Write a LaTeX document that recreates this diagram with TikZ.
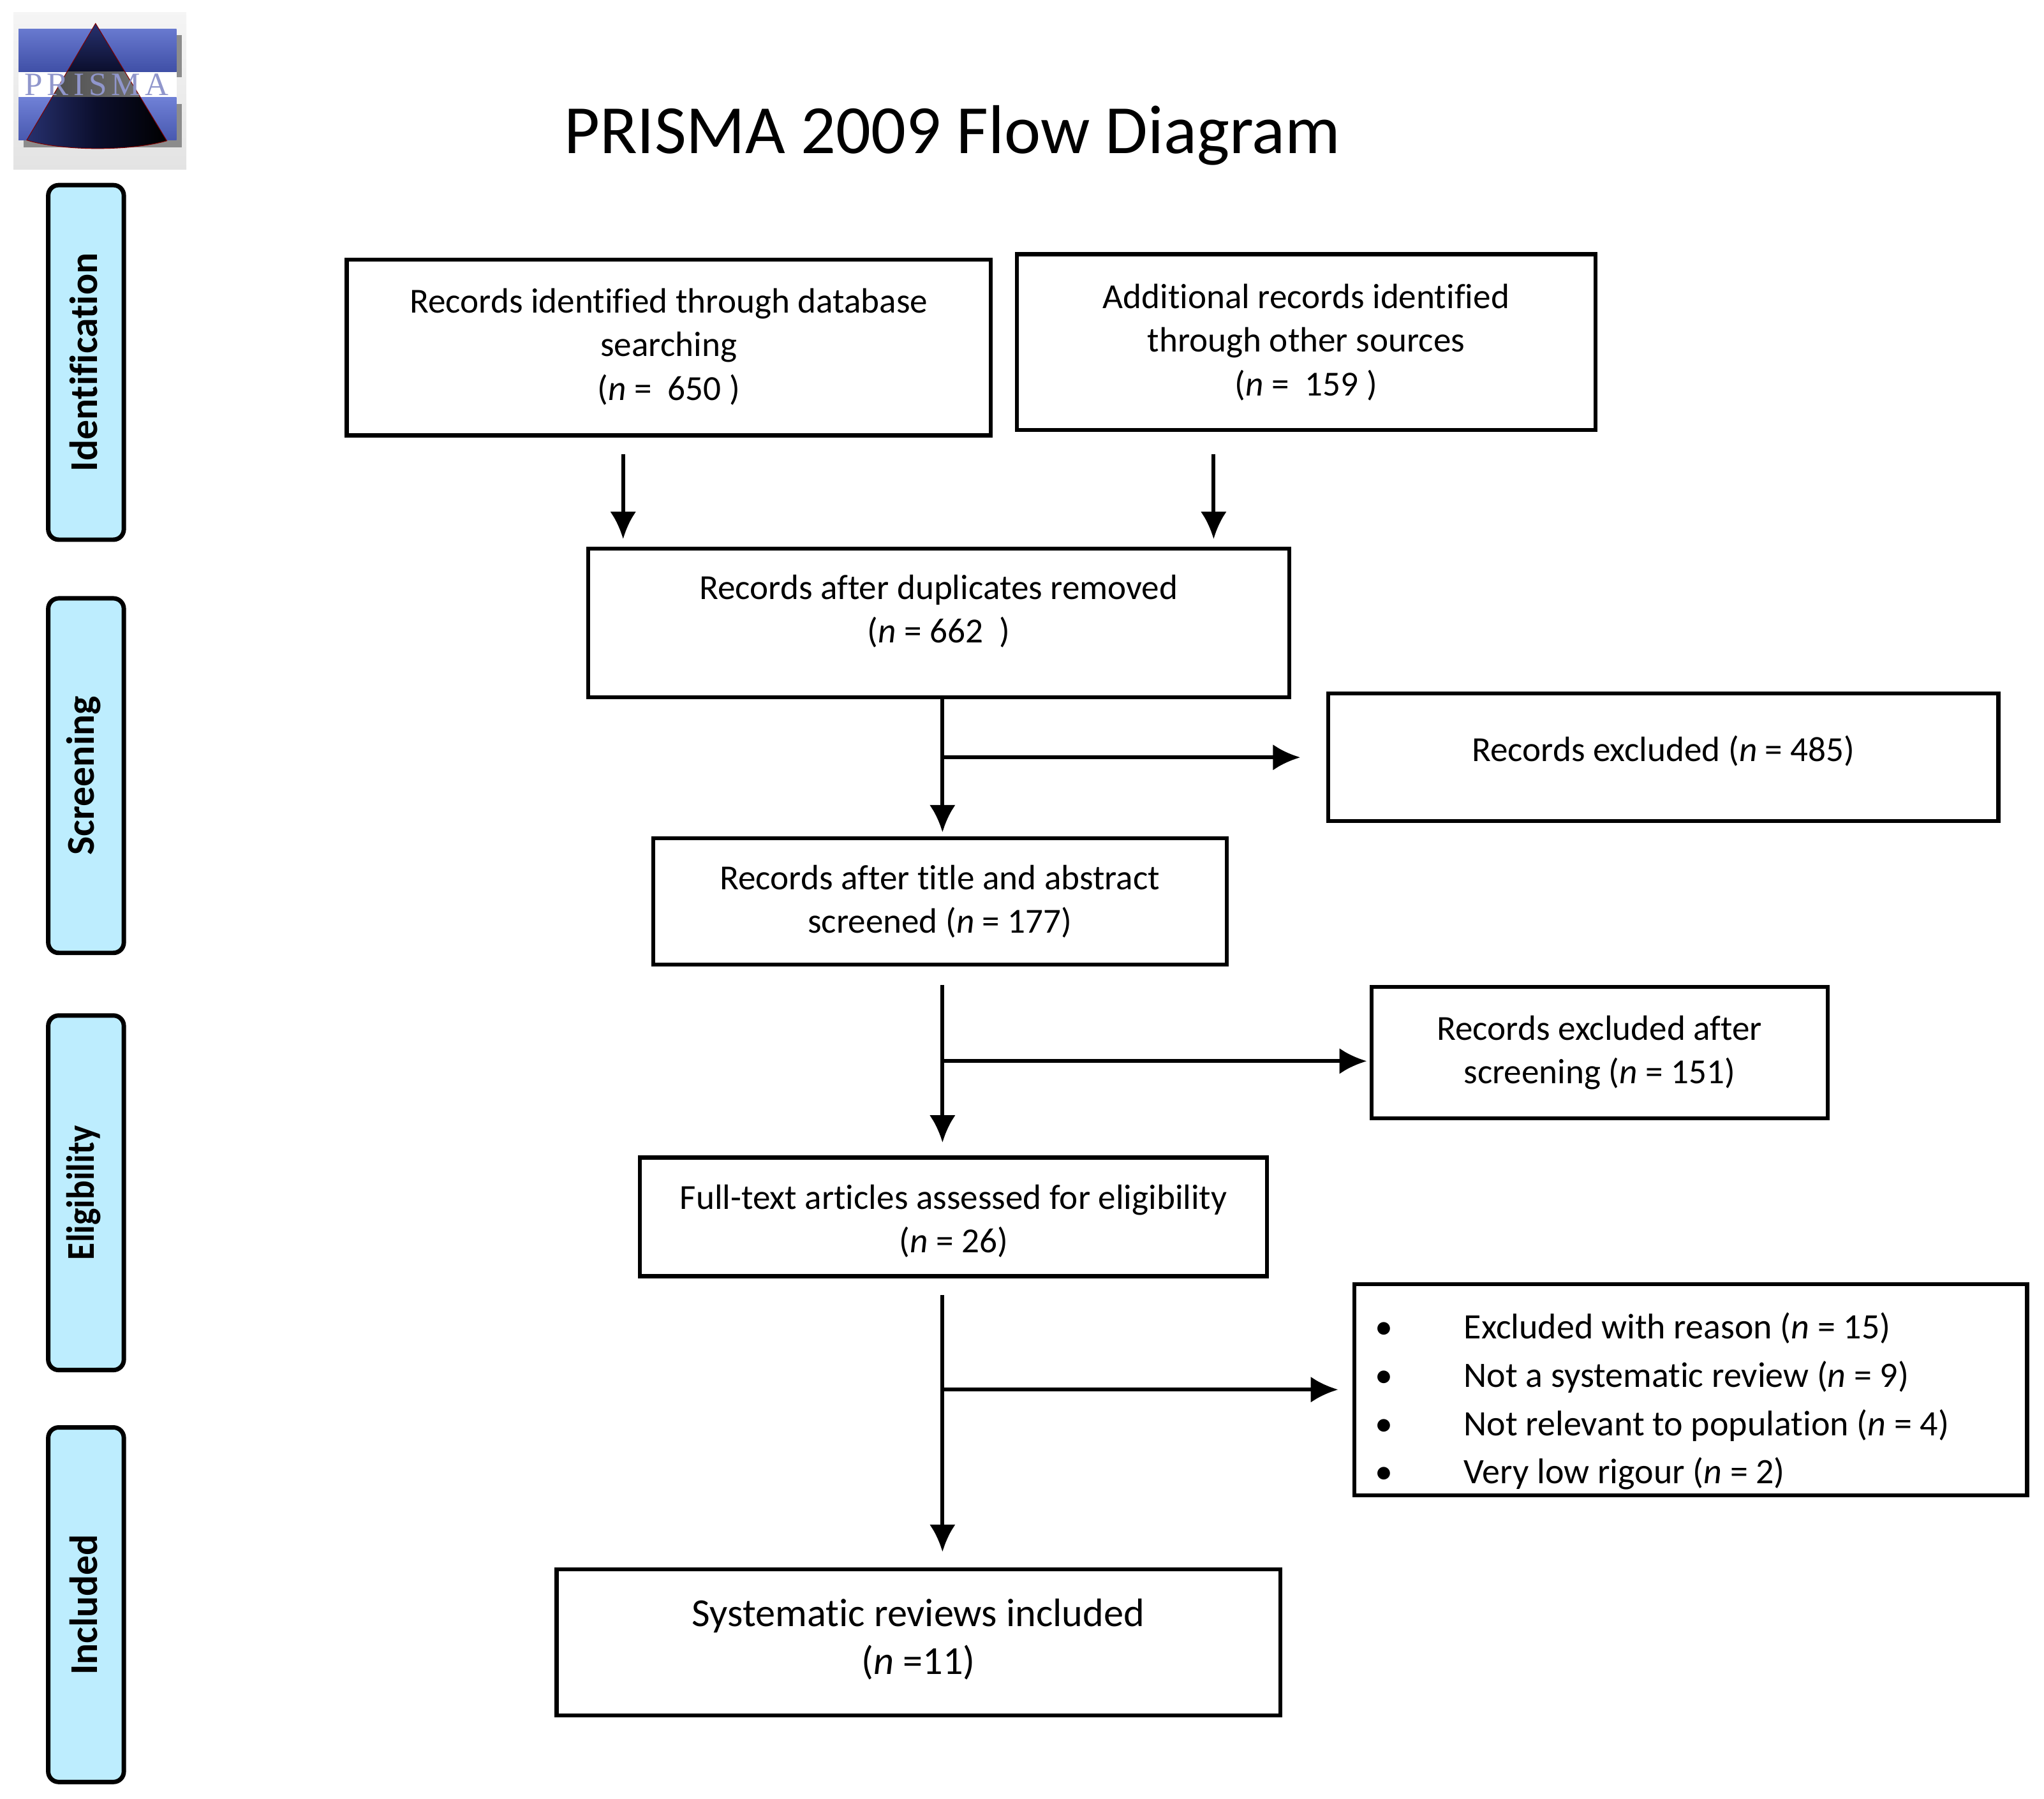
\documentclass[tikz,border=0pt]{standalone}
\usepackage{fontspec}
\setmainfont{Carlito}[Ligatures=NoCommon]
\newfontfamily\logofont[LetterSpace=14]{Liberation Serif}
\usetikzlibrary{arrows.meta}
\usetikzlibrary{fit,positioning}
\definecolor{stageblue}{HTML}{BDEDFE}
\definecolor{bandlight}{HTML}{6F80D6}
\definecolor{banddark}{HTML}{3F4FA6}
\definecolor{pyramidblue}{HTML}{27316F}
\definecolor{pyramidnight}{HTML}{0B0E2C}
\definecolor{logotext}{HTML}{9096CC}
\newcommand{\listitem}{\makebox[76pt][l]{\hspace*{8pt}\textbullet}}
\newcommand{\stagetext}[1]{\rotatebox{90}{#1}\hspace*{4pt}}
\begin{document}
\begin{tikzpicture}[x=1pt,y=-1pt]
  \tikzstyle{box}=[rectangle, draw=black, line width=3pt, align=center, font=\fontsize{27}{33.5}\selectfont]
  \tikzstyle{stage}=[rectangle, rounded corners=8pt, draw=black, fill=stageblue, line width=3.4pt, minimum width=58pt, minimum height=272pt, inner sep=0pt, outer sep=0pt, font=\fontsize{30.2}{36}\selectfont\bfseries]
  \tikzstyle{connect}=[-{Latex[length=21pt,width=20pt]}, line width=3pt]
  \useasboundingbox (0,0) rectangle (1568,1379.6);
    % logo
    \shade[top color=black!4, bottom color=black!11] (10.3,9.3) rectangle (143,130);
    \fill[black!45] (18,27) rectangle (139.5,59);
    \fill[black!45] (18,80) rectangle (139.5,113);
    \fill[white] (14.2,55.2) rectangle (135.4,74.8);
    \shade[top color=bandlight!85!banddark, bottom color=banddark] (14.2,22.5) rectangle (135.4,55.2);
    \shade[top color=bandlight, bottom color=banddark!80!bandlight] (14.2,74.8) rectangle (135.4,107.5);
    \begin{scope}
      \clip (73.3,18) -- (128,108) .. controls (100,116) and (48,116) .. (20.5,107.5) -- cycle;
      \shade[top color=pyramidblue, bottom color=pyramidnight] (14,18) rectangle (135,55.2);
      \shade[left color=black!75, right color=black!50] (14,55.2) rectangle (135,74.8);
      \shade[left color=pyramidblue, right color=black, middle color=pyramidnight] (20,74.8) rectangle (128,116);
    \end{scope}
    \draw[red!50!black, line width=0.5pt] (73.3,18) -- (128,108) .. controls (100,116) and (48,116) .. (20.5,107.5) -- cycle;
    \node[inner sep=0pt, text=logotext, font=\logofont\fontsize{25}{25}\selectfont] (prisma) at (74,65) {PRISMA};
    \node[inner sep=0pt, font=\fontsize{53}{60}\selectfont] (title) at (730.5,104) {PRISMA 2009 Flow Diagram};

    \node[stage] (identification) at (66,278) {\stagetext{Identification}};
    \node[stage] (screening) [below=45pt of identification] {\stagetext{Screening}};
    \node[stage] (eligibility) [below=48pt of screening] {\stagetext{\scalebox{0.9}[1]{Eligibility}}};
    \node[stage] (included) [below=44pt of eligibility] {\stagetext{Included}};

    \node[box, minimum width=494pt, minimum height=135pt, text depth=5pt] (database) at (513,266.5) {Records identified through database\\searching\\(\textit{n} =~~650 )};
    \node[box, minimum width=444pt, minimum height=135pt] (other) at (1002,262.5) {Additional records identified\\through other sources\\(\textit{n} =~~159 )};
    \node[box, minimum width=538pt, minimum height=114pt, text depth=22pt] (duplicates) at (720,478) {Records after duplicates removed\\(\textit{n} = 662~~)};
    \node[box, minimum width=514pt, minimum height=98pt, text depth=14pt] (excludedA) at (1276,581) {Records excluded (\textit{n} = 485)};
    \node[box, minimum width=440pt, minimum height=97pt] (abstract) at (721,691.5) {Records after title and abstract\\screened (\textit{n} = 177)};
    \node[box, minimum width=350pt, minimum height=101pt] (excludedB) at (1227,807.5) {Records excluded after\\screening (\textit{n} = 151)};
    \node[box, minimum width=481pt, minimum height=91pt] (fulltext) at (731.5,933.5) {\rule{0pt}{25pt}Full-text articles assessed for eligibility\\(\textit{n} = 26)};
    \node[box, minimum width=516pt, minimum height=162pt, align=flush left, text width=500pt, font=\fontsize{27.4}{37}\selectfont] (excludedC) at (1297,1066) {\rule{0pt}{38pt}\listitem Excluded with reason (\textit{n} = 15)\\\listitem Not a systematic review (\textit{n} = 9)\\\listitem Not relevant to population (\textit{n} = 4)\\\listitem Very low rigour (\textit{n} = 2)};
    \node[box, minimum width=555pt, minimum height=112pt, text depth=9pt, font=\fontsize{30.5}{37}\selectfont] (systematic) at (704.5,1260) {Systematic reviews included\\(\textit{n} =11)};

    \coordinate (mainline) at (723,581);
    \coordinate (feedA) at (478,348);
    \coordinate (feedB) at (931,348);
    \coordinate (branchB) at (723,814);
    \coordinate (branchC) at (723,1066);

    \path (database.south -| feedA) edge [connect, shorten <=13pt, shorten >=6pt] (duplicates.north -| feedA)
          (other.south -| feedB) edge [connect, shorten <=17pt, shorten >=6pt] (duplicates.north -| feedB)
          (duplicates.south -| mainline) edge [connect, shorten >=3pt] (abstract.north -| mainline)
          (abstract.south -| mainline) edge [connect, shorten <=14pt, shorten >=10pt] (fulltext.north -| mainline)
          (fulltext.south -| mainline) edge [connect, shorten <=13pt, shorten >=12pt] (systematic.north -| mainline)
          (mainline) edge [connect, shorten >=20pt] (excludedA.west |- mainline)
          (branchB) edge [connect, shorten >=2pt] (excludedB.west |- branchB)
          (branchC) edge [connect, shorten >=11pt] (excludedC.west |- branchC);
\end{tikzpicture}
\end{document}
